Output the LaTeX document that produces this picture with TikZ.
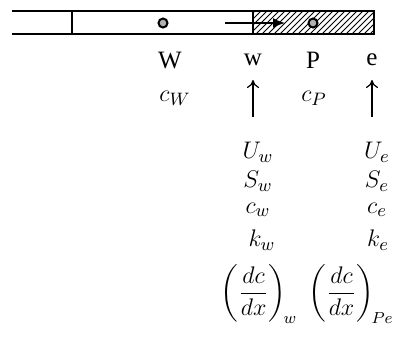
\documentclass[tikz,border=0pt]{standalone}
\usepackage{amsmath}
\usepackage{fontspec}
\setmainfont{Liberation Serif}
\usepackage{tikz}
\usetikzlibrary{arrows.meta, patterns}

\begin{document}
\begin{tikzpicture}[
  x=0.5pt, y=-0.5pt,
  lbl/.style={inner sep=0pt, font=\fontsize{12.5}{14}\selectfont},
  grad/.style={inner sep=0pt, font=\fontsize{11.5}{13}\selectfont},
  grid/.style={line width=1.2pt},
  dot/.style={circle, draw, line width=1pt, fill=gray!60, minimum size=4.5pt, inner sep=0pt},
  arr/.style={-{Latex[length=6pt,width=5pt]}, thick},
  up/.style={-{To[length=4pt,width=6pt]}, semithick}
]
\useasboundingbox (0,0) rectangle (396,350);

% control volume strip
\fill[pattern=north east lines] (253,11) rectangle (374,34);
\draw[grid] (12,11) -- (375,11);
\draw[grid] (12,34) -- (375,34);
\draw[grid] (72,11) -- (72,34);
\draw[grid] (253,11) -- (253,34);
\draw[grid] (374,11) -- (374,34);

\node[dot] (nW) at (163,23) {};
\node[dot] (nP) at (313,23) {};
\coordinate (fs) at (225,23);
\coordinate (fe) at (285,23);
\draw[arr] (fs) -- (fe);

% Row 1: node and face names
\node[lbl] (W) at (170,60) {W};
\node[lbl] (w) at (253,60) {w};
\node[lbl] (P) at (313,60) {P};
\node[lbl] (e) at (372,60) {e};

% Row 2: nodal values
\node[lbl] (cW) at (175,98) {$c_W$};
\node[lbl] (cP) at (314,98) {$c_P$};

% face columns
\node[lbl] (Uw) at (258,152) {$U_w$};
\node[lbl] (Sw) at (258,181) {$S_w$};
\node[lbl] (cw) at (258,210) {$c_w$};
\node[lbl] (kw) at (262,240) {$k_w$};
\node[grad] (gw) at (259,294) {$\left(\dfrac{dc}{dx}\right)_{\!w}$};

\node[lbl] (Ue) at (377,152) {$U_e$};
\node[lbl] (Se) at (377,181) {$S_e$};
\node[lbl] (ce) at (377,210) {$c_e$};
\node[lbl] (ke) at (378,240) {$k_e$};
\node[grad, anchor=east] (ge) at (394,294) {$\left(\dfrac{dc}{dx}\right)_{\!Pe}$};

% velocity arrows
\coordinate (aw) at (253,117);
\coordinate (ae) at (372,117);
\draw[up] (aw) -- (253,80);
\draw[up] (ae) -- (372,80);

\end{tikzpicture}
\end{document}
